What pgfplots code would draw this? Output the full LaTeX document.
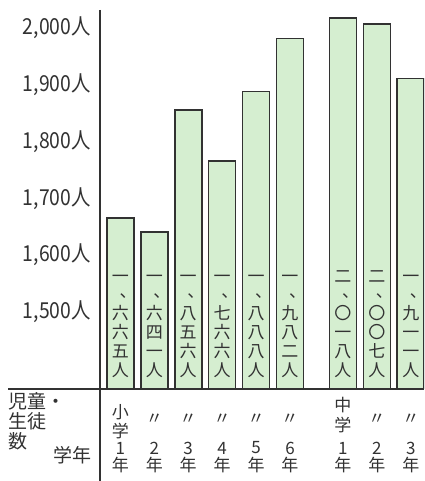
\documentclass[border=0pt]{standalone}
\usepackage{fontspec}
\setmainfont{Noto Sans CJK JP}
\newfontfamily\tickfont[FakeStretch=0.88]{Noto Sans CJK JP}
\usepackage{pgfplots}
\pgfplotsset{compat=1.18}
\definecolor{barfill}{RGB}{213,238,208}
\definecolor{ink}{RGB}{50,50,50}
\newcommand\barfont{\fontsize{8.5pt}{9.4pt}\selectfont}
\newcommand\rowfont{\fontsize{8.5pt}{9pt}\selectfont}
\newcommand\lblfont{\fontsize{9.5pt}{10pt}\selectfont}
% vertical-writing comma: upper right of its cell
\newcommand\vc{\makebox[1em][l]{\kern0.45em\raisebox{0.2em}[0.7em][0pt]{\makebox[0.5em][l]{、}}}}

\begin{document}
\begin{tikzpicture}
\useasboundingbox (0,0) rectangle (212pt,240.5pt);
\begin{axis}[
  at={(50pt,46pt)}, anchor=south west,
  scale only axis, width=162pt, height=189.5pt,
  xmin=-0.6, xmax=8.95, ymin=1364, ymax=2032,
  axis line style={draw=none},
  xtick=\empty,
  ytick={1500,1600,1700,1800,1900,2000},
  yticklabels={{1,500人},{1,600人},{1,700人},{1,800人},{1,900人},{2,000人}},
  major tick length=0pt,
  yticklabel style={font=\tickfont\fontsize{11pt}{11pt}\selectfont, text=ink, inner sep=0pt, xshift=-4.5pt},
  ybar, bar width=13.5pt,
]
% 児童・生徒数（小学1年〜中学3年）
\addplot[draw=ink, line width=0.8pt, fill=barfill] coordinates {
  (0,1665) (1,1641) (2,1856) (3,1766) (4,1888) (5,1982)
  (6.56,2018) (7.56,2007) (8.56,1911)
};
\coordinate (b0) at (axis cs:0,1364);
\coordinate (b1) at (axis cs:1,1364);
\coordinate (b2) at (axis cs:2,1364);
\coordinate (b3) at (axis cs:3,1364);
\coordinate (b4) at (axis cs:4,1364);
\coordinate (b5) at (axis cs:5,1364);
\coordinate (b6) at (axis cs:6.56,1364);
\coordinate (b7) at (axis cs:7.56,1364);
\coordinate (b8) at (axis cs:8.56,1364);
\end{axis}

% coordinates below in pixels of the reference, y downwards
\begin{scope}[x=0.5pt, y=-0.5pt, shift={(0pt,240.5pt)}]
\draw[ink, line width=0.75pt] (100,10) -- (100,481);
\draw[ink, line width=0.75pt] (8,389) -- (424,389);

\begin{scope}[every node/.style={anchor=south, align=center, inner sep=0pt, font=\barfont, text=ink}]
\node at (b0 |- 0,378) {一\\\vc\\六\\六\\五\\人};
\node at (b1 |- 0,378) {一\\\vc\\六\\四\\一\\人};
\node at (b2 |- 0,378) {一\\\vc\\八\\五\\六\\人};
\node at (b3 |- 0,378) {一\\\vc\\七\\六\\六\\人};
\node at (b4 |- 0,378) {一\\\vc\\八\\八\\八\\人};
\node at (b5 |- 0,378) {一\\\vc\\九\\八\\二\\人};
\node at (b6 |- 0,378) {二\\\vc\\〇\\一\\八\\人};
\node at (b7 |- 0,378) {二\\\vc\\〇\\〇\\七\\人};
\node at (b8 |- 0,378) {一\\\vc\\九\\一\\一\\人};
\end{scope}

\begin{scope}[every node/.style={inner sep=0pt, font=\lblfont, text=ink}]
\node[anchor=west] at (8,401) {児童・};
\node[anchor=west] at (8,421) {生徒};
\node[anchor=west] at (8,441) {数};
\node[anchor=east] at (92,455) {学年};
\end{scope}

\begin{scope}[every node/.style={inner sep=0pt, font=\rowfont, text=ink}]
\node at (b0 |- 0,412) {小};
\node at (b0 |- 0,431) {学};
\node at (b6 |- 0,405) {中};
\node at (b6 |- 0,425) {学};
\foreach \b in {1,2,3,4,5,7,8} \node at (b\b |- 0,419) {〃};
\foreach \b/\d in {0/1,1/2,2/3,3/4,4/5,5/6,6/1,7/2,8/3} {
  \node at (b\b |- 0,448) {\d};
  \node at (b\b |- 0,465) {年};
}
\end{scope}
\end{scope}
\end{tikzpicture}
\end{document}
